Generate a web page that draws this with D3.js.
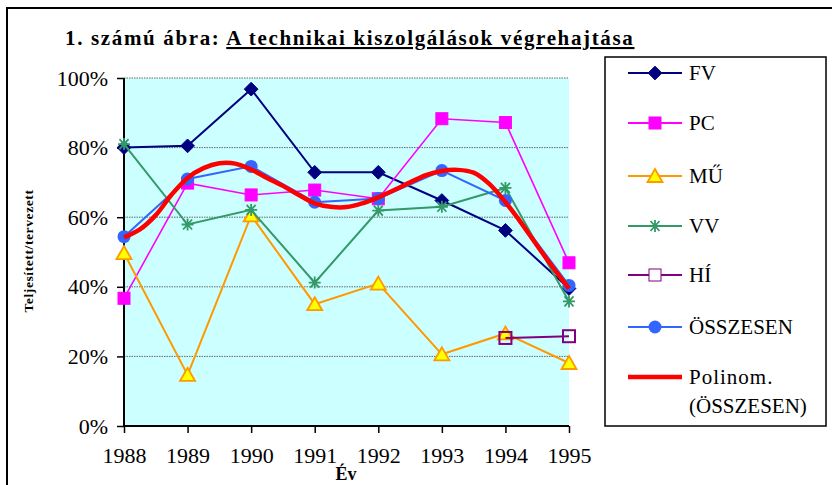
<!DOCTYPE html>
<html>
<head>
  <meta charset="utf-8">
  <title>A technikai kiszolgálások végrehajtása</title>
  <script src="https://d3js.org/d3.v7.min.js"></script>
  <style type="text/css">
    body { margin: 0; background: #fff; }
  </style>
</head>
<body>
  <script type="text/javascript">
    var SERIF = "Liberation Serif";

    // years on the x axis
    var years = [1988, 1989, 1990, 1991, 1992, 1993, 1994, 1995];

    // series values (%), null = no data
    var fv = [80, 80.5, 96.8, 72.9, 72.9, 64.8, 56.2, 39.5];
    var pc = [36.7, 69.8, 66.4, 67.8, 65.3, 88.3, 87.2, 46.9];
    var mu = [49.7, 14.7, 60.5, 35, 40.9, 20.6, 26.6, 18.1];
    var vv = [81, 57.9, 62.1, 41.2, 61.9, 63, 68.4, 35.8];
    var hi = [null, null, null, null, null, null, 25.3, 25.8];
    var osszesen = [54.4, 71, 74.6, 64.3, 65.4, 73.4, 64.8, 40.4];

    // polynomial trend
    var trendYears = [1988, 1988.25, 1988.5, 1988.75, 1989, 1989.25, 1989.5, 1989.75,
      1990, 1990.25, 1990.5, 1990.75, 1991, 1991.25, 1991.5, 1991.75,
      1992, 1992.25, 1992.5, 1992.75, 1993, 1993.25, 1993.5, 1993.75,
      1994, 1994.25, 1994.5, 1994.75, 1995];
    var trendValues = [54.2, 56.5, 60.6, 66.5, 71.3, 74.1, 75.5, 75.4,
      73.7, 71.3, 69, 66.4, 64, 63, 62.9, 64,
      65.7, 67.8, 70, 72.1, 73.3, 73.6, 72.8, 69.5,
      64.3, 58.3, 51.8, 45.5, 39.5];

    var yTicks = [0, 20, 40, 60, 80, 100];

    var series = [
      { name: "FV", values: fv, color: "#000080", marker: "diamond", fill: "#000080" },
      { name: "PC", values: pc, color: "#ff00ff", marker: "square", fill: "#ff00ff" },
      { name: "MŰ", values: mu, color: "#ff9900", marker: "triangle", fill: "#ffff00" },
      { name: "VV", values: vv, color: "#339966", marker: "star", fill: "none" },
      { name: "HÍ", values: hi, color: "#800080", marker: "square", fill: "none" },
      { name: "ÖSSZESEN", values: osszesen, color: "#3366ff", marker: "circle", fill: "#3366ff" }
    ];

    var w = 832, h = 485;
    var margin = { top: 78, left: 124, right: 263, bottom: 59 };

    var svg = d3.select("body").append("svg")
      .attr("width", w)
      .attr("height", h)
      .attr("font-family", SERIF);

    // outer frame (runs past the right and bottom edges)
    svg.append("rect")
      .attr("x", 7).attr("y", 8)
      .attr("width", 840).attr("height", 500)
      .attr("fill", "none")
      .attr("stroke", "#000")
      .attr("stroke-width", 2);

    var x = d3.scaleLinear().domain([1988, 1995]).range([margin.left, w - margin.right]);
    var y = d3.scaleLinear().domain([0, 100]).range([h - margin.bottom, margin.top]);

    // plot background
    svg.append("rect")
      .attr("x", x(1988)).attr("y", y(100))
      .attr("width", x(1995) - x(1988))
      .attr("height", y(0) - y(100))
      .attr("fill", "#ccffff");

    // gridlines
    svg.append("g").selectAll("line")
      .data(yTicks.filter(function (d) { return d > 0; }))
      .enter().append("line")
      .attr("x1", x(1988)).attr("x2", x(1995))
      .attr("y1", function (d) { return y(d); })
      .attr("y2", function (d) { return y(d); })
      .attr("stroke", "#666")
      .attr("stroke-width", 1)
      .attr("stroke-dasharray", "1.5,1");

    // axes
    var yAxis = d3.axisLeft(y).tickValues(yTicks).tickSize(7).tickPadding(9)
      .tickFormat(function (d) { return d + "%"; });
    var gy = svg.append("g").attr("transform", "translate(" + x(1988) + ",0)").call(yAxis)
      .attr("font-family", SERIF);
    gy.select(".domain").remove();
    gy.selectAll(".tick line").attr("stroke", "#000").attr("stroke-width", 1.5);
    gy.selectAll(".tick text").attr("font-family", SERIF).attr("font-size", 22).attr("fill", "#000");

    var xAxis = d3.axisBottom(x).tickValues(years).tickSize(7).tickPadding(14)
      .tickFormat(d3.format("d"));
    var gx = svg.append("g").attr("transform", "translate(0," + y(0) + ")").call(xAxis)
      .attr("font-family", SERIF);
    gx.select(".domain").remove();
    gx.selectAll(".tick line").attr("stroke", "#000").attr("stroke-width", 1.5);
    gx.selectAll(".tick text").attr("font-family", SERIF).attr("font-size", 22).attr("fill", "#000");

    svg.append("line")
      .attr("x1", x(1988)).attr("x2", x(1988))
      .attr("y1", y(100)).attr("y2", y(0) + 1)
      .attr("stroke", "#000").attr("stroke-width", 2);
    svg.append("line")
      .attr("x1", x(1988) - 1).attr("x2", x(1995))
      .attr("y1", y(0)).attr("y2", y(0))
      .attr("stroke", "#000").attr("stroke-width", 2);

    // axis titles
    svg.append("text")
      .attr("transform", "translate(33,251) rotate(-90)")
      .attr("text-anchor", "middle")
      .attr("font-family", SERIF)
      .attr("font-size", 13.5)
      .attr("font-weight", "bold")
      .attr("letter-spacing", 0.6)
      .text("Teljesített/tervezett");

    svg.append("text")
      .attr("x", 346).attr("y", 480)
      .attr("text-anchor", "middle")
      .attr("font-family", SERIF)
      .attr("font-size", 18)
      .attr("font-weight", "bold")
      .text("Év");

    // title
    var title = svg.append("text")
      .attr("x", 65).attr("y", 45)
      .attr("font-family", SERIF)
      .attr("font-size", 21)
      .attr("font-weight", "bold")
      .attr("letter-spacing", 1.65);
    title.append("tspan").text("1. számú ábra: ");
    title.append("tspan").attr("text-decoration", "underline").text("A technikai kiszolgálások végrehajtása");

    // markers
    function drawMarker(g, type, color, fill, cx, cy) {
      if (type === "diamond") {
        g.append("path")
          .attr("d", d3.symbol().type(d3.symbolDiamond2).size(120)())
          .attr("transform", "translate(" + cx + "," + cy + ")")
          .attr("fill", fill).attr("stroke", color).attr("stroke-width", 1);
      } else if (type === "square") {
        g.append("rect")
          .attr("x", cx - 6).attr("y", cy - 6)
          .attr("width", 12).attr("height", 12)
          .attr("fill", fill).attr("stroke", color).attr("stroke-width", fill === "none" ? 2 : 1);
      } else if (type === "triangle") {
        g.append("path")
          .attr("d", "M" + cx + "," + (cy - 7) + "L" + (cx + 7.5) + "," + (cy + 6) + "L" + (cx - 7.5) + "," + (cy + 6) + "Z")
          .attr("fill", fill).attr("stroke", color).attr("stroke-width", 1.8);
      } else if (type === "circle") {
        g.append("circle")
          .attr("cx", cx).attr("cy", cy).attr("r", 6.5)
          .attr("fill", fill);
      } else if (type === "star") {
        g.append("path")
          .attr("d", "M" + (cx - 6) + "," + cy + "H" + (cx + 6) +
            "M" + (cx - 4.5) + "," + (cy - 5) + "L" + (cx + 4.5) + "," + (cy + 5) +
            "M" + (cx + 4.5) + "," + (cy - 5) + "L" + (cx - 4.5) + "," + (cy + 5) +
            "M" + cx + "," + (cy - 6) + "V" + (cy + 6))
          .attr("stroke", color).attr("stroke-width", 1.8);
      }
    }

    var line = d3.line()
      .defined(function (d) { return d != null; })
      .x(function (d, i) { return x(years[i]); })
      .y(function (d) { return y(d); });

    series.forEach(function (s) {
      var g = svg.append("g");
      g.append("path")
        .attr("d", line(s.values))
        .attr("fill", "none")
        .attr("stroke", s.color)
        .attr("stroke-width", s.name === "PC" ? 1.6 : 2);
      s.values.forEach(function (v, i) {
        if (v != null) drawMarker(g, s.marker, s.color, s.fill, x(years[i]), y(v));
      });
    });

    // trend line
    var trendLine = d3.line()
      .curve(d3.curveCatmullRom)
      .x(function (d, i) { return x(trendYears[i]); })
      .y(function (d) { return y(d); });
    svg.append("path")
      .attr("d", trendLine(trendValues))
      .attr("fill", "none")
      .attr("stroke", "#ff0000")
      .attr("stroke-width", 4.5)
      .attr("stroke-linejoin", "round");

    // legend
    var legend = svg.append("g");
    legend.append("rect")
      .attr("x", 605).attr("y", 57)
      .attr("width", 221).attr("height", 369)
      .attr("fill", "#fff")
      .attr("stroke", "#000")
      .attr("stroke-width", 1.5);

    var legendY = [73, 123, 176, 226, 275, 327];
    series.forEach(function (s, i) {
      var ly = legendY[i];
      legend.append("line")
        .attr("x1", 628).attr("x2", 682)
        .attr("y1", ly).attr("y2", ly)
        .attr("stroke", s.color).attr("stroke-width", 2);
      drawMarker(legend, s.marker, s.color, s.fill === "none" && s.marker === "square" ? "#fff" : s.fill, 655, ly);
      legend.append("text")
        .attr("x", 689).attr("y", ly + 7)
        .attr("font-family", SERIF)
        .attr("font-size", 21)
        .text(s.name);
    });
    legend.append("line")
      .attr("x1", 628).attr("x2", 682)
      .attr("y1", 377).attr("y2", 377)
      .attr("stroke", "#ff0000").attr("stroke-width", 4.5);
    legend.append("text")
      .attr("x", 689).attr("y", 384)
      .attr("font-family", SERIF)
      .attr("font-size", 21)
      .attr("letter-spacing", 1)
      .text("Polinom.");
    legend.append("text")
      .attr("x", 689).attr("y", 413)
      .attr("font-family", SERIF)
      .attr("font-size", 21)
      .text("(ÖSSZESEN)");
  </script>
</body>
</html>
